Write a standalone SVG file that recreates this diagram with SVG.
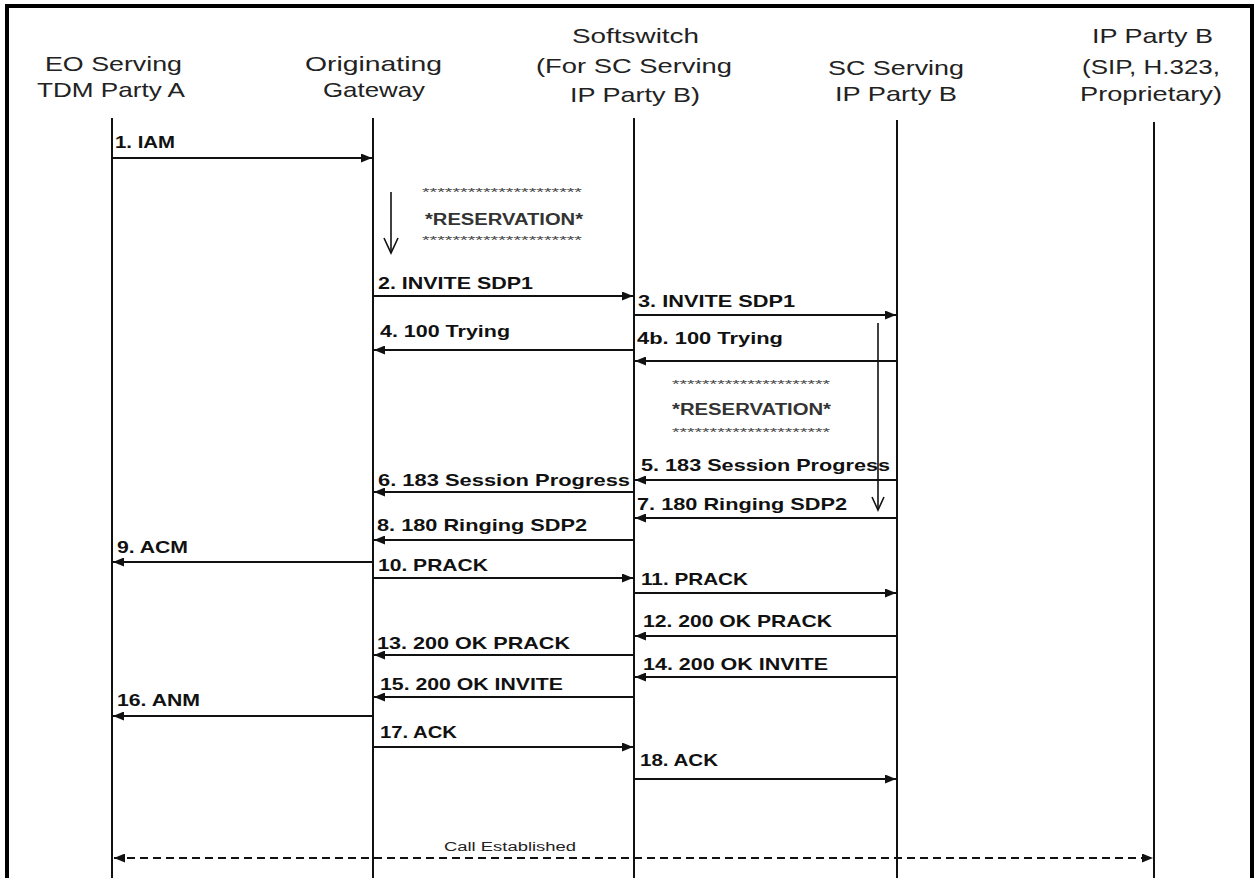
<svg xmlns="http://www.w3.org/2000/svg" width="1255" height="878" viewBox="0 0 1255 878">
<defs>
<style>
.hdr{font-family:"Liberation Sans",Arial,sans-serif;font-size:21px;fill:#222;text-anchor:start}
.lbl{font-family:"Liberation Sans",Arial,sans-serif;font-size:17px;font-weight:bold;fill:#111}
.life{stroke:#111;stroke-width:2;fill:none}
.msg{stroke:#111;stroke-width:2;fill:none;marker-end:url(#ah)}
.res{font-family:"Liberation Sans",Arial,sans-serif;font-size:16px;font-weight:bold;fill:#333}
.ast{font-family:"Liberation Sans",Arial,sans-serif;font-size:11px;fill:#444}
.down{stroke:#111;stroke-width:1.6;fill:none}
.small{font-family:"Liberation Sans",Arial,sans-serif;font-size:12px;fill:#222}
</style>
<marker id="ah" markerUnits="userSpaceOnUse" markerWidth="11" markerHeight="9" refX="11" refY="4.5" orient="auto">
<path d="M0,0 L11,4.5 L0,9 z" fill="#111"/>
</marker>
<marker id="ahs" markerUnits="userSpaceOnUse" markerWidth="11" markerHeight="9" refX="0" refY="4.5" orient="auto">
<path d="M11,0 L0,4.5 L11,9 z" fill="#111"/>
</marker>
</defs>
<rect x="0" y="0" width="1255" height="878" fill="#fff"/>
<rect x="7" y="6" width="1245" height="900" fill="none" stroke="#000" stroke-width="4"/>

<g id="node-eo">
<text class="hdr" x="45" y="71" textLength="137" lengthAdjust="spacingAndGlyphs">EO Serving</text>
<text class="hdr" x="37" y="97" textLength="148" lengthAdjust="spacingAndGlyphs">TDM Party A</text>
<line class="life" x1="112" y1="118" x2="112" y2="878"/>
</g>
<g id="node-gw">
<text class="hdr" x="305" y="71" textLength="137" lengthAdjust="spacingAndGlyphs">Originating</text>
<text class="hdr" x="323" y="97" textLength="102" lengthAdjust="spacingAndGlyphs">Gateway</text>
<line class="life" x1="373" y1="118" x2="373" y2="878"/>
</g>
<g id="node-ss">
<text class="hdr" x="572" y="43" textLength="127" lengthAdjust="spacingAndGlyphs">Softswitch</text>
<text class="hdr" x="536" y="73" textLength="196" lengthAdjust="spacingAndGlyphs">(For SC Serving</text>
<text class="hdr" x="570" y="102" textLength="130" lengthAdjust="spacingAndGlyphs">IP Party B)</text>
<line class="life" x1="634" y1="118" x2="634" y2="878"/>
</g>
<g id="node-sc">
<text class="hdr" x="828" y="75" textLength="136" lengthAdjust="spacingAndGlyphs">SC Serving</text>
<text class="hdr" x="835" y="101" textLength="122" lengthAdjust="spacingAndGlyphs">IP Party B</text>
<line class="life" x1="897" y1="120" x2="897" y2="878"/>
</g>
<g id="node-ipb">
<text class="hdr" x="1092" y="43" textLength="121" lengthAdjust="spacingAndGlyphs">IP Party B</text>
<text class="hdr" x="1082" y="74" textLength="138" lengthAdjust="spacingAndGlyphs">(SIP, H.323,</text>
<text class="hdr" x="1080" y="101" textLength="142" lengthAdjust="spacingAndGlyphs">Proprietary)</text>
<line class="life" x1="1154" y1="122" x2="1154" y2="878"/>
</g>

<g id="reservation-1">
<text class="ast" x="422" y="196" textLength="160" lengthAdjust="spacingAndGlyphs">*********************</text>
<text class="res" x="425" y="225" textLength="158" lengthAdjust="spacingAndGlyphs">*RESERVATION*</text>
<text class="ast" x="422" y="244" textLength="160" lengthAdjust="spacingAndGlyphs">*********************</text>
<line class="down" x1="391" y1="192" x2="391" y2="253"/>
<polyline class="down" points="384,238 391,253 398,238"/>
</g>
<g id="reservation-2">
<text class="ast" x="672" y="388" textLength="158" lengthAdjust="spacingAndGlyphs">*********************</text>
<text class="res" x="672" y="415" textLength="159" lengthAdjust="spacingAndGlyphs">*RESERVATION*</text>
<text class="ast" x="672" y="436" textLength="158" lengthAdjust="spacingAndGlyphs">*********************</text>
<line class="down" x1="878" y1="323" x2="878" y2="510"/>
<polyline class="down" points="872,497 878,510 884,497"/>
</g>

<g id="connectors">
<line class="msg" x1="112" y1="158" x2="372" y2="158"/>
<line class="msg" x1="373" y1="296" x2="633" y2="296"/>
<line class="msg" x1="634" y1="315" x2="896" y2="315"/>
<line class="msg" x1="634" y1="350" x2="374" y2="350"/>
<line class="msg" x1="897" y1="361" x2="635" y2="361"/>
<line class="msg" x1="897" y1="480" x2="635" y2="480"/>
<line class="msg" x1="634" y1="492" x2="374" y2="492"/>
<line class="msg" x1="897" y1="518" x2="635" y2="518"/>
<line class="msg" x1="634" y1="540" x2="374" y2="540"/>
<line class="msg" x1="373" y1="562" x2="113" y2="562"/>
<line class="msg" x1="373" y1="578" x2="633" y2="578"/>
<line class="msg" x1="634" y1="593" x2="896" y2="593"/>
<line class="msg" x1="897" y1="636" x2="635" y2="636"/>
<line class="msg" x1="634" y1="655" x2="374" y2="655"/>
<line class="msg" x1="897" y1="677" x2="635" y2="677"/>
<line class="msg" x1="634" y1="697" x2="374" y2="697"/>
<line class="msg" x1="373" y1="716" x2="113" y2="716"/>
<line class="msg" x1="373" y1="747" x2="633" y2="747"/>
<line class="msg" x1="634" y1="779" x2="896" y2="779"/>
<line x1="114" y1="858" x2="1153" y2="858" stroke="#111" stroke-width="2" stroke-dasharray="8,5" marker-start="url(#ahs)" marker-end="url(#ah)"/>

<text class="lbl" x="115" y="148" textLength="60" lengthAdjust="spacingAndGlyphs">1. IAM</text>
<text class="lbl" x="378" y="289" textLength="155" lengthAdjust="spacingAndGlyphs">2. INVITE SDP1</text>
<text class="lbl" x="638" y="307" textLength="157" lengthAdjust="spacingAndGlyphs">3. INVITE SDP1</text>
<text class="lbl" x="380" y="337" textLength="130" lengthAdjust="spacingAndGlyphs">4. 100 Trying</text>
<text class="lbl" x="637" y="344" textLength="146" lengthAdjust="spacingAndGlyphs">4b. 100 Trying</text>
<text class="lbl" x="641" y="471" textLength="249" lengthAdjust="spacingAndGlyphs">5. 183 Session Progress</text>
<text class="lbl" x="378" y="486" textLength="252" lengthAdjust="spacingAndGlyphs">6. 183 Session Progress</text>
<text class="lbl" x="637" y="510" textLength="210" lengthAdjust="spacingAndGlyphs">7. 180 Ringing SDP2</text>
<text class="lbl" x="377" y="531" textLength="210" lengthAdjust="spacingAndGlyphs">8. 180 Ringing SDP2</text>
<text class="lbl" x="117" y="553" textLength="71" lengthAdjust="spacingAndGlyphs">9. ACM</text>
<text class="lbl" x="378" y="571" textLength="110" lengthAdjust="spacingAndGlyphs">10. PRACK</text>
<text class="lbl" x="641" y="585" textLength="107" lengthAdjust="spacingAndGlyphs">11. PRACK</text>
<text class="lbl" x="643" y="627" textLength="189" lengthAdjust="spacingAndGlyphs">12. 200 OK PRACK</text>
<text class="lbl" x="377" y="649" textLength="193" lengthAdjust="spacingAndGlyphs">13. 200 OK PRACK</text>
<text class="lbl" x="643" y="670" textLength="185" lengthAdjust="spacingAndGlyphs">14. 200 OK INVITE</text>
<text class="lbl" x="380" y="690" textLength="183" lengthAdjust="spacingAndGlyphs">15. 200 OK INVITE</text>
<text class="lbl" x="117" y="706" textLength="83" lengthAdjust="spacingAndGlyphs">16. ANM</text>
<text class="lbl" x="380" y="738" textLength="77" lengthAdjust="spacingAndGlyphs">17. ACK</text>
<text class="lbl" x="640" y="766" textLength="78" lengthAdjust="spacingAndGlyphs">18. ACK</text>
<text class="small" x="444" y="851" textLength="132" lengthAdjust="spacingAndGlyphs">Call Established</text>
</g>
</svg>
